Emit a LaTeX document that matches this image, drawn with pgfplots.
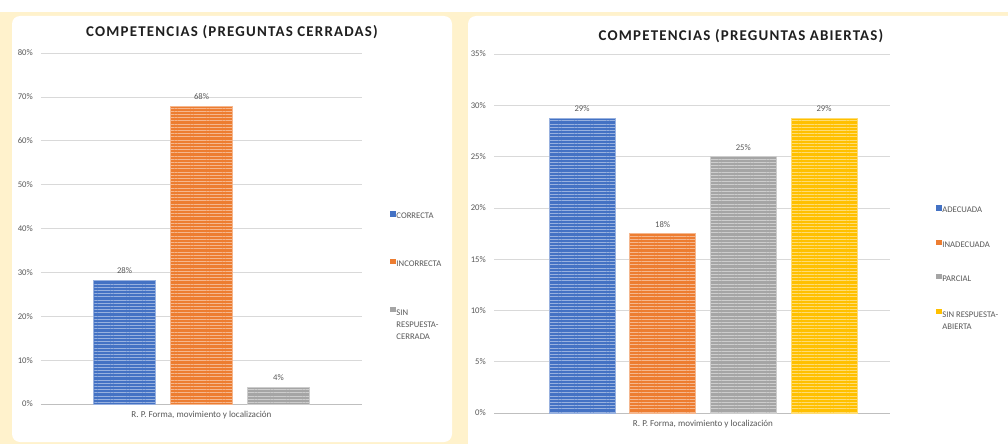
\documentclass[border=0pt]{standalone}
\usepackage{fontspec}
\setmainfont{Carlito}
\newfontfamily\titlefont[LetterSpace=8]{Carlito}
\usepackage{pgfplots}
\pgfplotsset{compat=1.18}
\usetikzlibrary{patterns.meta}
\definecolor{cblue}{HTML}{4472C4}
\definecolor{corange}{HTML}{ED7D31}
\definecolor{cgray}{HTML}{A5A5A5}
\definecolor{cyellow}{HTML}{FFC000}
\definecolor{bg}{HTML}{FFF2CC}
\definecolor{txt}{HTML}{595959}
\definecolor{gridc}{HTML}{D9D9D9}
\definecolor{axisc}{HTML}{BFBFBF}
\newcommand\smallf{\fontsize{6.5pt}{9pt}\selectfont}
\pgfplotsset{
  barsty/.style 2 args={ybar, fill=#1, draw=#1!55!white, line width=0.5pt,
    bar shift=#2,
    postaction={pattern={Lines[angle=0,distance=2.4pt,line width=0.75pt]}, pattern color=#1!55!white},
    nodes near coords style={xshift=#2},
    legend image code/.code={\pgfsetfillcolor{#1}\pgfpathrectangle{\pgfpoint{0pt}{0.3pt}}{\pgfpoint{4pt}{4pt}}\pgfusepath{fill}}},
  myaxis/.style={
    scale only axis, anchor=south west,
    ymin=0,
    axis x line*=bottom, axis y line*=left,
    y axis line style={draw=none},
    x axis line style={axisc, line width=0.6pt},
    ymajorgrids, grid style={gridc, line width=0.5pt},
    xtick={0}, xtick style={draw=none}, ytick style={draw=none},
    tick label style={font=\smallf, text=txt},
    /pgf/number format/assume math mode=true,
    yticklabel={\pgfmathprintnumber{\tick}\%},
    xticklabel={R. P. Forma, movimiento y localización},
    yticklabel style={inner sep=0pt, xshift=-6pt},
    xticklabel style={inner sep=0pt, yshift=-5pt, font=\fontsize{6.8pt}{9pt}\selectfont},
    point meta=explicit symbolic,
    nodes near coords,
    nodes near coords style={font=\smallf, text=txt, inner sep=2pt, yshift=2.5pt},
    legend cell align=left,
    legend style={draw=none, fill=none, font=\smallf, text=txt, anchor=north west,
      nodes={inner sep=0.6pt}},
    clip=false,
  },
}
\begin{document}
\begin{tikzpicture}
\useasboundingbox (0,0) rectangle (756pt,333pt);
\clip (0,0) rectangle (756pt,333pt);
\fill[white] (0,0) rectangle (756pt,333pt);
\fill[bg] (0,0) rectangle (756pt,324pt);
\fill[white, rounded corners=6pt] (9pt,1.5pt) rectangle (339pt,321pt);
\fill[white, rounded corners=6pt] (351pt,-10pt) rectangle (775pt,321pt);
\node[font=\titlefont\fontsize{11.2pt}{12pt}\selectfont\bfseries, text=black!88] at (174pt,309pt) {COMPETENCIAS (PREGUNTAS CERRADAS)};
\node[font=\titlefont\fontsize{11.2pt}{12pt}\selectfont\bfseries, text=black!88] at (555.75pt,306pt) {COMPETENCIAS (PREGUNTAS ABIERTAS)};

\begin{axis}[myaxis,
  at={(30.75pt,30pt)}, width=240.75pt, height=263.25pt,
  ymax=80, ytick={0,10,...,80},
  xmin=-0.5, xmax=0.5,
  bar width=46.5pt,
  legend style={at={(1.075,0.557)}, row sep=28pt},
]
\addplot[barsty={cblue}{-57.75pt}] coordinates {(0,28.21) [28\%]};
\addplot[barsty={corange}{0pt}] coordinates {(0,67.95) [68\%]};
\addplot[barsty={cgray}{57.75pt}] coordinates {(0,3.85) [4\%]};
\legend{CORRECTA, INCORRECTA, {\begin{tabular}[t]{@{}l@{}}SIN\\RESPUESTA-\\CERRADA\end{tabular}}}
\end{axis}

\begin{axis}[myaxis,
  at={(370.5pt,23.25pt)}, width=297pt, height=269.25pt,
  ymax=35, ytick={0,5,...,35},
  xmin=-0.5278, xmax=0.4722,
  bar width=49.5pt,
  legend style={at={(1.106,0.587)}, row sep=18pt},
]
\addplot[barsty={cblue}{-90.75pt}] coordinates {(0,28.75) [29\%]};
\addplot[barsty={corange}{-30.25pt}] coordinates {(0,17.5) [18\%]};
\addplot[barsty={cgray}{30.25pt}] coordinates {(0,25) [25\%]};
\addplot[barsty={cyellow}{90.75pt}] coordinates {(0,28.75) [29\%]};
\legend{ADECUADA, INADECUADA, PARCIAL, {\begin{tabular}[t]{@{}l@{}}SIN RESPUESTA-\\ABIERTA\end{tabular}}}
\end{axis}
\end{tikzpicture}
\end{document}
